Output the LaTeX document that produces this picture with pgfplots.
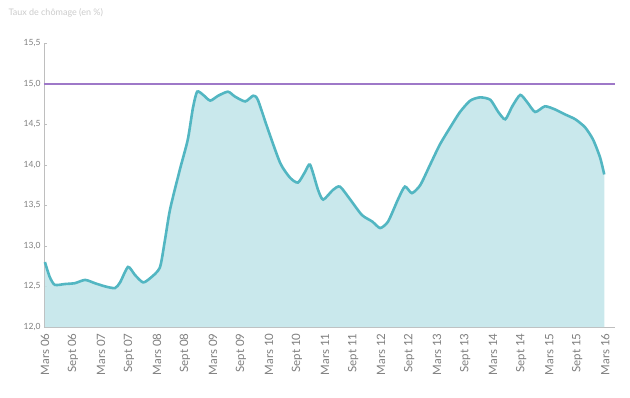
\documentclass[border=0pt]{standalone}
\usepackage{pgfplots}
\pgfplotsset{compat=1.18}
\usepackage{fontspec}
\setmainfont{Lato}
\definecolor{teal1}{HTML}{52B6C2}
\definecolor{tealfill}{HTML}{C3E5EA}
\definecolor{purp}{HTML}{9E78C8}
\definecolor{lbl}{HTML}{7E7E7E}
\pgfplotstableread{
x y
0 12.80
1 12.62
2.1 12.52
4.3 12.53
6.4 12.54
8.6 12.58
10.7 12.54
12.9 12.50
15 12.48
16.1 12.55
17.8 12.74
19.3 12.64
21 12.55
22.5 12.60
24.6 12.73
25.7 13.07
26.8 13.45
28.9 13.94
30.6 14.31
31.7 14.70
32.6 14.90
33.9 14.86
35.4 14.79
37.1 14.85
39.2 14.90
40.7 14.84
42.9 14.78
44.6 14.85
45.6 14.80
47.8 14.43
50.4 14.02
52.5 13.84
54.2 13.78
55.7 13.91
56.8 14.00
58.5 13.69
59.6 13.57
61.7 13.69
63.2 13.73
65.4 13.57
67.9 13.38
70.1 13.30
71.8 13.22
73.5 13.30
75.6 13.57
77.1 13.73
78.6 13.65
80.4 13.75
82.5 14.00
84.6 14.25
86.8 14.46
88.9 14.65
91.1 14.79
93.2 14.83
95.4 14.80
97.1 14.65
98.6 14.56
100.1 14.72
101.8 14.86
103.3 14.77
105 14.65
107.1 14.72
109.3 14.68
111.4 14.62
113.6 14.56
115.7 14.46
117.4 14.31
118.9 14.09
119.8 13.88
}\datatable
\pgfplotstableread{
x y
-0.2 15
122.1 15
}\limittable
\begin{document}
\begin{tikzpicture}[x=1pt,y=1pt]
\useasboundingbox (-44pt,-70pt) rectangle (586pt,327pt);
\begin{axis}[
  at={(0,0)}, anchor=south west,
  scale only axis,
  width=571pt, height=284pt,
  xmin=-0.2, xmax=122.1,
  ymin=12, ymax=15.5,
  ytick={12,12.5,...,15.5},
  /pgf/number format/use comma,
  /pgf/number format/fixed,
  /pgf/number format/fixed zerofill,
  /pgf/number format/precision=1,
  /pgf/number format/assume math mode=true,
  xtick={0,6,...,120},
  xticklabels={Mars 06,Sept 06,Mars 07,Sept 07,Mars 08,Sept 08,Mars 09,Sept 09,Mars 10,Sept 10,Mars 11,Sept 11,Mars 12,Sept 12,Mars 13,Sept 13,Mars 14,Sept 14,Mars 15,Sept 15,Mars 16},
  xticklabel style={rotate=90,anchor=east,font=\fontsize{11.5}{12}\selectfont,text=lbl,xshift=-3pt},
  yticklabel style={font=\fontsize{8.5}{9}\selectfont,text=lbl},
  axis x line*=bottom, axis y line*=left,
  axis line style={draw=lbl!50,line width=0.6pt},
  x axis line style={-}, y axis line style={-},
  major tick length=3pt,
  xtick style={draw=none},
  ytick style={draw=lbl!50},
  clip=false,
]
\addplot[fill=tealfill,fill opacity=0.9,draw=none] table[x=x,y=y]{\datatable} -- (axis cs:119.8,12) -- (axis cs:0,12) -- cycle;
\addplot[draw=teal1,line width=2.6pt,smooth,tension=0.4] table[x=x,y=y]{\datatable};
\addplot[color=purp,line width=2pt,mark=none,opacity=1] table[x=x,y=y]{\limittable};
\end{axis}
\node[anchor=north west,text=lbl!40,font=\small] at (-39pt,322pt) {Taux de chômage (en \%)};
\end{tikzpicture}
\end{document}
